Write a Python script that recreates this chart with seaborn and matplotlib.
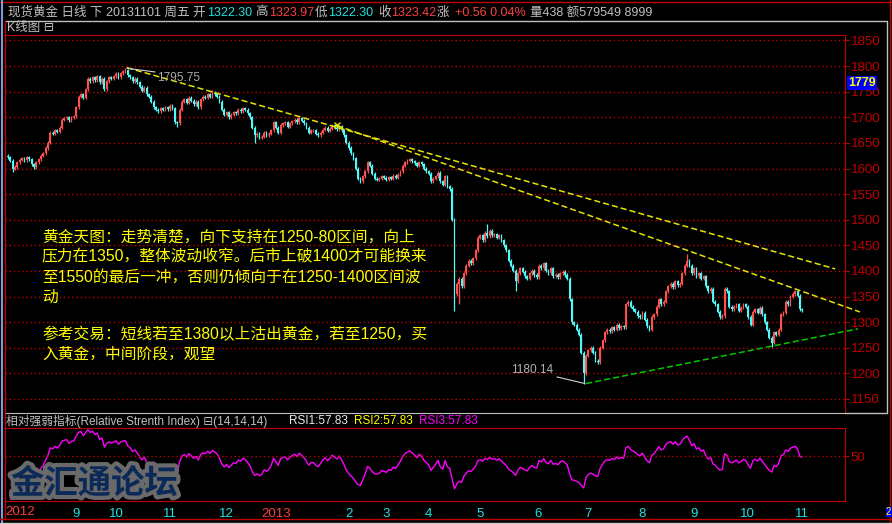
import numpy as np
import pandas as pd
import matplotlib
matplotlib.use("Agg")
import matplotlib.pyplot as plt
import matplotlib.patheffects as pe
from matplotlib.lines import Line2D
from matplotlib.transforms import blended_transform_factory
import seaborn as sns

# daily closes, spot gold, Jul 2012 - 1 Nov 2013
closes = [
    1622, 1615, 1600, 1603, 1612, 1617, 1620, 1616, 1622, 1618,
    1608, 1603, 1612, 1618, 1625, 1630, 1640, 1650, 1670, 1668,
    1675, 1672, 1680, 1695, 1698, 1700, 1694, 1700, 1702, 1720,
    1740, 1745, 1738, 1755, 1775, 1770, 1778, 1772, 1780, 1768,
    1775, 1755, 1770, 1778, 1775, 1780, 1785, 1778, 1786, 1790,
    1792, 1782, 1778, 1770, 1775, 1768, 1760, 1752, 1758, 1745,
    1740, 1730, 1720, 1715, 1712, 1718, 1715, 1720, 1716, 1722,
    1718, 1690, 1688, 1715, 1730, 1735, 1728, 1738, 1732, 1725,
    1730, 1720, 1735, 1740, 1738, 1745, 1740, 1748, 1745, 1740,
    1730, 1715, 1705, 1710, 1700, 1705, 1710, 1708, 1715, 1712,
    1718, 1715, 1708, 1700, 1680, 1665, 1668, 1660, 1662, 1670,
    1665, 1668, 1675, 1690, 1680, 1670, 1685, 1688, 1690, 1682,
    1688, 1692, 1695, 1690, 1698, 1693, 1688, 1680, 1670, 1675,
    1675, 1668, 1665, 1670, 1676, 1680, 1674, 1678, 1684, 1680,
    1677, 1682, 1675, 1665, 1650, 1640, 1630, 1620, 1600, 1580,
    1575, 1585, 1595, 1612, 1605, 1590, 1580, 1578, 1580, 1585,
    1582, 1578, 1583, 1580, 1586, 1582, 1588, 1595, 1605, 1612,
    1615, 1618, 1614, 1610, 1605, 1612, 1608, 1600, 1595, 1590,
    1575, 1580, 1585, 1592, 1575, 1568, 1585, 1565, 1560, 1500,
    1355, 1375, 1385, 1370, 1395, 1410, 1420, 1415, 1425, 1440,
    1465, 1470, 1460, 1475, 1468, 1478, 1470, 1472, 1465, 1470,
    1460, 1450, 1440, 1420, 1410, 1400, 1380, 1395, 1405, 1398,
    1390, 1385, 1395, 1400, 1392, 1388, 1410, 1405, 1415, 1400,
    1395, 1405, 1390, 1392, 1388, 1395, 1398, 1392, 1385, 1345,
    1300, 1295, 1285, 1275, 1240, 1200, 1234, 1245, 1250, 1240,
    1225, 1222, 1250, 1265, 1280, 1285, 1282, 1290, 1285, 1295,
    1288, 1292, 1290, 1335, 1340, 1330, 1325, 1320, 1312, 1310,
    1318, 1305, 1292, 1285, 1310, 1315, 1330, 1345, 1335, 1340,
    1360, 1370, 1375, 1368, 1380, 1372, 1375, 1395, 1410, 1420,
    1410, 1395, 1405, 1390, 1395, 1385, 1390, 1370, 1360, 1365,
    1340, 1335, 1320, 1310, 1312, 1365, 1360, 1330, 1325, 1330,
    1335, 1322, 1328, 1335, 1330, 1310, 1295, 1320, 1325, 1318,
    1328, 1315, 1300, 1285, 1270, 1260, 1280, 1275, 1285, 1315,
    1318, 1340, 1335, 1350, 1355, 1360, 1352, 1325, 1323.42,
]
first_open = 1625
# bars with long shadows
big_highs = {50: 1795.75, 87: 1753, 204: 1491, 289: 1434, 305: 1368, 336: 1362}
big_lows = {2: 1594, 72: 1682, 105: 1650, 190: 1321, 192: 1335, 216: 1360,
            245: 1180.14, 325: 1251}
wick = 3

price_ticks = list(range(1150, 1851, 50))
month_labels = ['9', '10', '11', '12', '2013', '2', '3', '4', '5', '6', '7', '8', '9', '10', '11']
month_pos = [29, 46, 69, 93, 114, 145, 161, 179, 201, 225.5, 247, 270, 292, 314.5, 338]

# drawn trend lines (bar index, price)
upper_line = [(50.6, 1797), (352, 1404)]
mid_line = [(140, 1684), (362.5, 1320)]
support_line = [(246, 1180.14), (361.7, 1287)]

note1 = ["黄金天图：走势清楚，向下支持在1250-80区间，向上",
         "压力在1350，整体波动收窄。后市上破1400才可能换来",
         "至1550的最后一冲，否则仍倾向于在1250-1400区间波",
         "动"]
note2 = ["参考交易：短线若至1380以上沽出黄金，若至1250，买",
         "入黄金，中间阶段，观望"]

assert len(closes) == 339

df = pd.DataFrame({'close': closes})
df['open'] = df['close'].shift(1).fillna(first_open)
df['high'] = df[['open', 'close']].max(axis=1) + wick
df['low'] = df[['open', 'close']].min(axis=1) - wick
for k, v in big_highs.items():
    df.loc[k, 'high'] = v
for k, v in big_lows.items():
    df.loc[k, 'low'] = v
df['i'] = np.arange(len(df))

# RSI(14), Wilder smoothing
d = df['close'].diff()
ag = d.clip(lower=0).ewm(alpha=1 / 14, adjust=False).mean()
al = (-d.clip(upper=0)).ewm(alpha=1 / 14, adjust=False).mean()
df['rsi'] = 100 * ag / (ag + al)

sns.set_style("dark", rc={"axes.facecolor": "black", "figure.facecolor": "black"})
plt.rcParams['font.family'] = ['Liberation Sans', 'Noto Sans CJK SC', 'DejaVu Sans']

W, H = 892, 524
def fx(px):
    return px / W
def fy(py):
    return 1 - py / H

RED = '#c00000'
GRAY = '#c0c0c0'
CYAN = '#20e0e0'
BRED = '#ff4040'

fig = plt.figure(figsize=(8.92, 5.24), dpi=100, facecolor='black')
ax = fig.add_axes([fx(5), fy(413), fx(845) - fx(5), fy(35) - fy(413)])
ax2 = fig.add_axes([fx(5), fy(501), fx(845) - fx(5), fy(428) - fy(501)])
xlim = (-1.28, 356.2)

# candles
up = df['close'] >= df['open']
cols = np.where(up, '#ff5050', '#50f8f8')
ax.vlines(df['i'], df['low'], df['high'], colors=cols, lw=0.9)
body = (df['close'] - df['open']).abs().clip(lower=1.0)
ax.bar(df['i'], body, bottom=df[['open', 'close']].min(axis=1), width=0.78,
       color=cols, linewidth=0)

for ln in (upper_line, mid_line):
    ax.plot([p[0] for p in ln], [p[1] for p in ln], color='#e4e400', lw=1.1,
            ls=(0, (4, 2)), clip_on=False)
ax.plot([p[0] for p in support_line], [p[1] for p in support_line], color='#00c800',
        lw=1.1, ls=(0, (4, 2)), clip_on=False)
ax.plot(mid_line[0][0], mid_line[0][1], marker='x', color='#e4e400', ms=4)

# high / low labels
ax.plot([50.6, 62.6], [1795.75, 1788.5], color='#d0d0d0', lw=0.8)
ax.text(63.4, 1777, '1795.75', color='#a8a8a8', fontsize=8.6, va='center')
ax.plot([233.6, 245.5], [1193, 1180.14], color='#d0d0d0', lw=0.8)
ax.text(214, 1206, '1180.14', color='#b0b0b0', fontsize=8.6, va='center')

ax.set_xlim(*xlim)
ax.set_ylim(1122.6, 1860.7)
ax.set_xticks([])
ax.yaxis.tick_right()
ax.set_yticks(price_ticks)
ax.tick_params(axis='y', colors=RED, labelsize=9.5, length=3, pad=1)
ax.grid(axis='y', color=RED, ls=(0, (1, 2)), lw=1)
ax.grid(axis='x', visible=False)
for s in ('left', 'top', 'right'):
    ax.spines[s].set_color(RED)
    ax.spines[s].set_visible(True)
ax.spines['bottom'].set_color(GRAY)
ax.spines['bottom'].set_visible(True)

# RSI panel
sns.lineplot(data=df, x='i', y='rsi', ax=ax2, color='#ff00ff', lw=1, legend=False)
ax2.axhline(50, color=RED, ls=(0, (1, 2)), lw=1)
ax2.set_xlim(*xlim)
ax2.set_ylim(df['rsi'].min() - 2, df['rsi'].max() + 2)
ax2.yaxis.tick_right()
ax2.set_yticks([50])
ax2.tick_params(axis='y', colors=RED, labelsize=9.5, length=3, pad=1)
ax2.set_xticks(month_pos)
ax2.set_xticklabels(month_labels)
ax2.tick_params(axis='x', colors=RED, labelsize=9.5, length=3, pad=2)
for lab in ax2.get_xticklabels():
    lab.set_color(BRED if lab.get_text() == '2013' else CYAN)
ax2.text(-1.0, -0.15, '2012', color=BRED, fontsize=9.5, va='center',
         transform=blended_transform_factory(ax2.transData, ax2.transAxes))
ax2.set_xlabel('')
ax2.set_ylabel('')
ax2.grid(False)
for s in ax2.spines.values():
    s.set_color(RED)
    s.set_visible(True)

# frame lines
def hline(y, x0, x1, c, lw=1):
    fig.add_artist(Line2D([fx(x0), fx(x1)], [fy(y), fy(y)], color=c, lw=lw))
def vline(x, y0, y1, c, lw=1):
    fig.add_artist(Line2D([fx(x), fx(x)], [fy(y0), fy(y1)], color=c, lw=lw))

hline(1.5, 0, 892, RED)
hline(20.5, 5, 887, GRAY)
hline(413, 845, 887, GRAY)
vline(887, 20.5, 413, GRAY)
vline(889.5, 0, 524, RED)
vline(1.5, 0, 524, '#7f9ad8', lw=1.5)
vline(5, 20.5, 519, RED)
hline(519, 0, 892, RED)
hline(522.5, 0, 892, '#d0d0d0')

# header
hy = 12.5
hdr = [(8, "现货黄金 日线 下 20131101 周五 开", GRAY), (207, "1322.30", CYAN),
       (255, "高", GRAY), (269, "1323.97", BRED), (315, "低", GRAY),
       (328, "1322.30", CYAN), (378, "收", GRAY), (391, "1323.42", BRED),
       (437, "涨", GRAY), (455, "+0.56 0.04%", BRED), (530, "量438 额579549 8999", GRAY)]
for xp, t, c in hdr:
    fig.text(fx(xp), fy(hy), t, color=c, fontsize=9, va='center')
fig.text(fx(7), fy(28), "K线图 ⊟", color=GRAY, fontsize=9, va='center')

rsi_hdr = [(6, "相对强弱指标(Relative Strenth Index) ⊟(14,14,14)", GRAY),
           (289, "RSI1:57.83", '#e8e8e8'), (354, "RSI2:57.83", '#ffff00'),
           (419, "RSI3:57.83", '#ff00ff')]
for xp, t, c in rsi_hdr:
    fig.text(fx(xp), fy(421.5), t, color=c, fontsize=8.5, va='center')

fig.text(fx(848), fy(83), "1779", color='#ffff00', fontsize=9, fontweight='bold',
         va='center', bbox=dict(facecolor='#0000ff', edgecolor='none', pad=0.6))
fig.text(fx(886), fy(512), "2", color='#ffff00', fontsize=7, va='center',
         bbox=dict(facecolor='#0000ff', edgecolor='none', pad=0.3))

# yellow commentary
for k, t in enumerate(note1):
    fig.text(fx(42), fy(237 + 20 * k), t, color='#ffff00', fontsize=11.3, va='center')
for k, t in enumerate(note2):
    fig.text(fx(42), fy(334 + 20.5 * k), t, color='#ffff00', fontsize=11.3, va='center')

# watermark
fig.text(fx(11), fy(484), "金汇通论坛", color='#0c2a58', fontsize=24, fontweight='bold',
         va='center', family=['Noto Sans CJK SC'], zorder=10,
         path_effects=[pe.withStroke(linewidth=6, foreground='#6a6a6a')])

fig.savefig('out.png', dpi=100, facecolor='black')
